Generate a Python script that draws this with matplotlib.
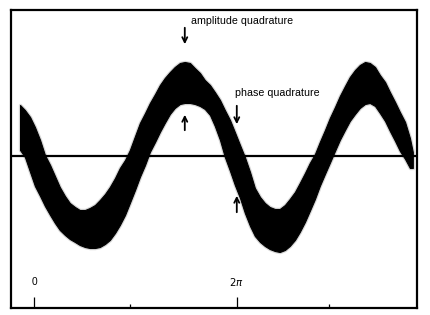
import matplotlib
matplotlib.use("Agg")
import matplotlib.pyplot as plt

plt.rcParams['font.family'] = ['Liberation Sans', 'DejaVu Sans']

# phase (rad) and the upper / lower edge of the noisy trace (arb. units)
phase = [-0.43, -0.28, -0.12, 0.03, 0.19, 0.34, 0.50, 0.65, 0.80, 0.96,
         1.11, 1.27, 1.42, 1.58, 1.73, 1.89, 2.04, 2.20, 2.35, 2.51,
         2.66, 2.82, 2.97, 3.13, 3.28, 3.44, 3.59, 3.75, 3.90, 4.05,
         4.21, 4.36, 4.52, 4.67, 4.83, 4.98, 5.14, 5.29, 5.45, 5.60,
         5.76, 5.91, 6.07, 6.22, 6.38, 6.53, 6.69, 6.84, 7.00, 7.15,
         7.30, 7.46, 7.61, 7.77, 7.92, 8.08, 8.23, 8.39, 8.54, 8.70,
         8.85, 9.01, 9.16, 9.32, 9.47, 9.63, 9.78, 9.94, 10.09, 10.25,
         10.40, 10.56, 10.71, 10.87, 11.02, 11.18, 11.33, 11.49, 11.64, 11.73]
upper = [0.51, 0.46, 0.39, 0.29, 0.16, 0.01, -0.09, -0.20, -0.31, -0.40,
         -0.47, -0.51, -0.54, -0.54, -0.52, -0.49, -0.44, -0.38, -0.31, -0.22,
         -0.12, -0.04, 0.06, 0.20, 0.33, 0.43, 0.53, 0.62, 0.71, 0.78,
         0.84, 0.89, 0.93, 0.94, 0.93, 0.88, 0.83, 0.76, 0.71, 0.64,
         0.56, 0.46, 0.36, 0.24, 0.11, -0.01, -0.16, -0.32, -0.41, -0.47,
         -0.51, -0.53, -0.53, -0.49, -0.43, -0.36, -0.27, -0.17, -0.07, 0.02,
         0.14, 0.26, 0.38, 0.49, 0.60, 0.70, 0.79, 0.86, 0.91, 0.94,
         0.93, 0.89, 0.81, 0.74, 0.64, 0.54, 0.44, 0.34, 0.18, 0.04]
lower = [0.06, -0.01, -0.16, -0.30, -0.40, -0.50, -0.59, -0.67, -0.74, -0.79,
         -0.83, -0.86, -0.89, -0.91, -0.92, -0.92, -0.91, -0.88, -0.84, -0.77,
         -0.69, -0.59, -0.47, -0.34, -0.21, -0.09, 0.04, 0.14, 0.24, 0.33,
         0.42, 0.48, 0.52, 0.53, 0.53, 0.52, 0.50, 0.47, 0.41, 0.30,
         0.16, -0.01, -0.15, -0.29, -0.42, -0.57, -0.70, -0.80, -0.86, -0.90,
         -0.93, -0.95, -0.96, -0.94, -0.90, -0.84, -0.76, -0.66, -0.55, -0.43,
         -0.30, -0.18, -0.07, 0.05, 0.16, 0.26, 0.35, 0.42, 0.48, 0.52,
         0.53, 0.50, 0.43, 0.35, 0.25, 0.15, 0.05, -0.03, -0.12, -0.12]

major_ticks = [0.0, 6.28]
major_labels = ["0", r"$2\pi$"]
minor_ticks = [2.97, 9.13]

fig = plt.figure(figsize=(4.30, 3.15), dpi=100)
ax = fig.add_axes([0.0256, 0.0222, 0.9442, 0.9461])

# light halo first, then the black band
ax.fill_between(phase, upper, lower, color='#d8d8d8', lw=2.5, edgecolor='#d8d8d8')
ax.fill_between(phase, upper, lower, color='black', lw=0.8, edgecolor='black')
ax.axhline(0, color='black', lw=1.6)

ax.set_xlim(-0.71, 11.86)
ax.set_ylim(-1.52, 1.46)

# ticks inside, labels drawn above them
ax.set_xticks(major_ticks)
ax.set_xticks(minor_ticks, minor=True)
ax.set_xticklabels([])
ax.tick_params(axis='x', which='major', direction='in', length=8, width=0.9, color='black')
ax.tick_params(axis='x', which='minor', direction='in', length=3, width=0.9, color='black')
ax.set_yticks([])
for xv, lab in zip(major_ticks, major_labels):
    ax.text(xv, 0.087, lab, transform=ax.get_xaxis_transform(), ha='center', va='center', fontsize=7.3)

for sp in ax.spines.values():
    sp.set_linewidth(1.6)

arr = dict(arrowstyle='->', lw=1.3, color='black', mutation_scale=9)
ax.annotate('', xy=(4.67, 1.09), xytext=(4.67, 1.31), arrowprops=arr)
ax.annotate('', xy=(4.67, 0.44), xytext=(4.67, 0.23), arrowprops=arr)
ax.annotate('', xy=(6.28, 0.29), xytext=(6.28, 0.53), arrowprops=arr)
ax.annotate('', xy=(6.28, -0.37), xytext=(6.28, -0.59), arrowprops=arr)
ax.text(4.86, 1.35, "amplitude quadrature", fontsize=7.7, va='center', ha='left')
ax.text(6.22, 0.63, "phase quadrature", fontsize=7.7, va='center', ha='left')

fig.savefig("out.png", dpi=100)
